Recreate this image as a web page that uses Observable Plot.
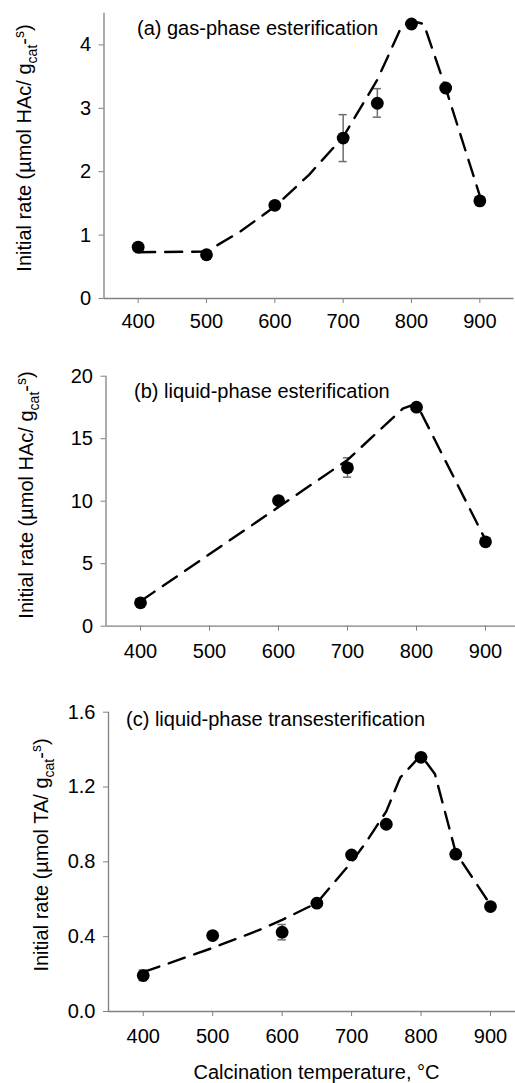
<!DOCTYPE html>
<html>
<head>
<meta charset="utf-8">
<script src="https://cdn.jsdelivr.net/npm/d3@7"></script>
<script src="https://cdn.jsdelivr.net/npm/@observablehq/plot@0.6"></script>
<style>
  html, body { margin: 0; padding: 0; background: white; overflow: hidden; }
  #wrap { position: relative; width: 515px; height: 1083px; }
  #wrap > svg { position: absolute; left: 0; }
</style>
</head>
<body>
<div id="wrap"></div>
<script>
// ---------- data ----------
const xTicks = [400, 500, 600, 700, 800, 900];

// (a) gas-phase esterification
const tempA = [400, 500, 600, 700, 750, 800, 850, 900];
const rateA = [0.81, 0.69, 1.47, 2.53, 3.08, 4.33, 3.32, 1.54];
const errTempA = [700, 750];
const errLoA = [2.16, 2.86];
const errHiA = [2.90, 3.31];
const fitTempA = [400, 500, 550, 600, 650, 700, 750, 785, 800, 818, 850, 900];
const fitRateA = [0.73, 0.74, 1.06, 1.45, 1.95, 2.55, 3.45, 4.28, 4.38, 4.33, 3.32, 1.62];
const yTicksA = [0, 1, 2, 3, 4];

// (b) liquid-phase esterification
const tempB = [400, 600, 700, 800, 900];
const rateB = [1.87, 10.05, 12.67, 17.52, 6.75];
const errTempB = [700];
const errLoB = [11.92];
const errHiB = [13.47];
const fitTempB = [400, 600, 700, 780, 800, 900];
const fitRateB = [2.0, 9.53, 13.3, 17.4, 17.8, 6.9];
const yTicksB = [0, 5, 10, 15, 20];

// (c) liquid-phase transesterification
const tempC = [400, 500, 600, 650, 700, 750, 800, 850, 900];
const rateC = [0.192, 0.406, 0.424, 0.579, 0.837, 1.001, 1.359, 0.841, 0.561];
const errTempC = [400, 600];
const errLoC = [0.165, 0.383];
const errHiC = [0.222, 0.465];
const fitTempC = [400, 500, 570, 600, 650, 700, 720, 750, 770, 800, 820, 850, 900];
const fitRateC = [0.21, 0.34, 0.44, 0.49, 0.58, 0.80, 0.90, 1.07, 1.25, 1.37, 1.27, 0.85, 0.57];
const yTicksC = [0, 0.4, 0.8, 1.2, 1.6];

// ---------- styling ----------
const FONT = "'Liberation Sans', Arial, Helvetica, sans-serif";
const AXIS = "#808080";
const ERR = "#6e6e6e";
const CAP = 6; // half cap width in x data units

function zip(xs, ys) { return xs.map((x, i) => ({x, y: ys[i]})); }
function zipErr(xs, lo, hi) { return xs.map((x, i) => ({x, lo: lo[i], hi: hi[i]})); }

function panel(cfg) {
  const pts = zip(cfg.temp, cfg.rate);
  const fit = zip(cfg.fitTemp, cfg.fitRate);
  const errs = zipErr(cfg.errTemp, cfg.errLo, cfg.errHi);
  const svg = Plot.plot({
    width: 515,
    height: cfg.height,
    marginLeft: cfg.ml, marginRight: cfg.mr, marginTop: cfg.mt, marginBottom: cfg.mb,
    style: {fontFamily: FONT, fontSize: "20px", color: "black", background: "white"},
    x: {domain: [350, 950], ticks: xTicks, tickSize: 5, tickPadding: cfg.xpad, tickFormat: d => String(d), label: null},
    y: {domain: cfg.ydomain, ticks: cfg.yTicks, tickSize: 5, tickPadding: 8, tickFormat: cfg.yfmt, label: null},
    marks: [
      Plot.ruleY([0], {stroke: AXIS, strokeWidth: 1.3}),
      Plot.ruleX([350], {stroke: AXIS, strokeWidth: 1.3}),
      Plot.ruleX(errs, {x: "x", y1: "lo", y2: "hi", stroke: ERR, strokeWidth: 1.5}),
      Plot.ruleY(errs, {y: "lo", x1: d => d.x - CAP, x2: d => d.x + CAP, stroke: ERR, strokeWidth: 1.5}),
      Plot.ruleY(errs, {y: "hi", x1: d => d.x - CAP, x2: d => d.x + CAP, stroke: ERR, strokeWidth: 1.5}),
      Plot.line(fit, {x: "x", y: "y", stroke: "black", strokeWidth: 2.4, strokeDasharray: "17,10"}),
      Plot.dot(pts, {x: "x", y: "y", r: 6.4, fill: "black", stroke: "none"})
    ]
  });
  svg.style.top = cfg.top + "px";
  svg.style.maxWidth = "none";
  // gray tick marks, black tick labels
  svg.querySelectorAll('[aria-label^="x-axis"] path, [aria-label^="x-axis"] line, [aria-label^="y-axis"] path, [aria-label^="y-axis"] line')
    .forEach(el => el.setAttribute("stroke", AXIS));
  const s = d3.select(svg);
  // panel title
  s.append("text")
    .attr("x", cfg.titleX).attr("y", cfg.titleY)
    .attr("text-anchor", "start")
    .attr("font-family", FONT).attr("font-size", 20).attr("fill", "black")
    .text(cfg.title);
  // y-axis label with sub/superscript
  const t = s.append("text")
    .attr("transform", `translate(${cfg.ylx},${cfg.yly}) rotate(-90)`)
    .attr("text-anchor", "middle")
    .attr("font-family", FONT).attr("font-size", 20).attr("fill", "black");
  t.append("tspan").text(cfg.ylabel);
  t.append("tspan").attr("dy", 6).attr("font-size", 14).text("cat");
  t.append("tspan").attr("dy", -6).text("-");
  t.append("tspan").attr("dy", -7).attr("font-size", 14).text("s");
  t.append("tspan").attr("dy", 7).text(")");
  if (cfg.xlabel) {
    s.append("text")
      .attr("x", cfg.xlx).attr("y", cfg.xly)
      .attr("text-anchor", "middle")
      .attr("font-family", FONT).attr("font-size", 20).attr("fill", "black")
      .text(cfg.xlabel);
  }
  document.getElementById("wrap").appendChild(svg);
}

panel({
  top: 0, height: 340, ml: 103.5, mr: 1.5, mt: 12.7, mb: 42, xpad: 10,
  ydomain: [0, 4.5], yTicks: yTicksA, yfmt: d => String(d),
  temp: tempA, rate: rateA, fitTemp: fitTempA, fitRate: fitRateA,
  errTemp: errTempA, errLo: errLoA, errHi: errHiA,
  title: "(a) gas-phase esterification", titleX: 137, titleY: 34.5,
  ylabel: "Initial rate (µmol HAc/ g", ylx: 31, yly: 148
});

panel({
  top: 340, height: 330, ml: 105.5, mr: -4.5, mt: 35.7, mb: 44.3, xpad: 12.5,
  ydomain: [0, 20], yTicks: yTicksB, yfmt: d => String(d),
  temp: tempB, rate: rateB, fitTemp: fitTempB, fitRate: fitRateB,
  errTemp: errTempB, errLo: errLoB, errHi: errHiB,
  title: "(b) liquid-phase esterification", titleX: 134, titleY: 58,
  ylabel: "Initial rate (µmol HAc/ g", ylx: 33, yly: 155
});

panel({
  top: 670, height: 413, ml: 108, mr: -9.7, mt: 41.7, mb: 72, xpad: 12.3,
  ydomain: [0, 1.6], yTicks: yTicksC, yfmt: d => d.toFixed(1),
  temp: tempC, rate: rateC, fitTemp: fitTempC, fitRate: fitRateC,
  errTemp: errTempC, errLo: errLoC, errHi: errHiC,
  title: "(c) liquid-phase transesterification", titleX: 126, titleY: 56,
  ylabel: "Initial rate (µmol TA/ g", ylx: 47.5, yly: 185,
  xlabel: "Calcination temperature, °C", xlx: 316.5, xly: 409
});
</script>
</body>
</html>
